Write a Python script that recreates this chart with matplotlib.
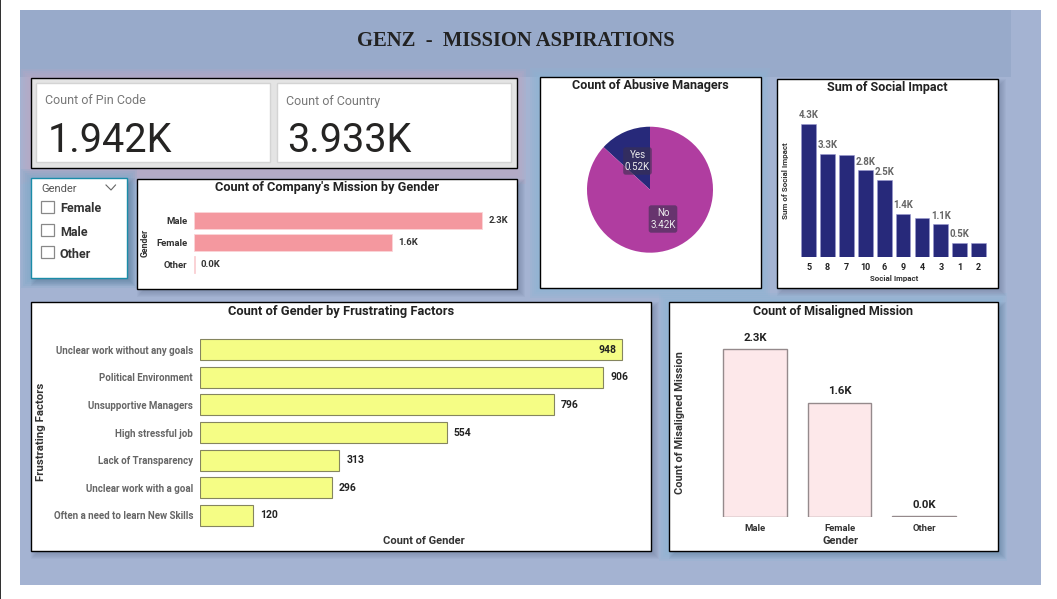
import matplotlib
matplotlib.use("Agg")
import matplotlib.pyplot as plt
from matplotlib.patches import Rectangle, FancyBboxPatch

W, H = 1057, 599
FONT = "Roboto"

# Data
mission_gender = ["Male", "Female", "Other"]
mission_counts = [2300, 1580, 4]
mission_labels = ["2.3K", "1.6K", "0.0K"]

abusive_names = ["Yes", "No"]
abusive_counts = [520, 3420]

impact_names = ["5", "8", "7", "10", "6", "9", "4", "3", "1", "2"]
impact_sums = [4300, 3330, 3290, 2800, 2490, 1400, 1280, 1070, 470, 470]
impact_labels = ["4.3K", "3.3K", "", "2.8K", "2.5K", "1.4K", "", "1.1K", "0.5K", ""]

factor_names = ["Unclear work without any goals", "Political Environment",
                "Unsupportive Managers", "High stressful job",
                "Lack of Transparency", "Unclear work with a goal",
                "Often a need to learn New Skills"]
factor_counts = [948, 906, 796, 554, 313, 296, 120]

misaligned_gender = ["Male", "Female", "Other"]
misaligned_counts = [2300, 1570, 12]
misaligned_labels = ["2.3K", "1.6K", "0.0K"]

fig = plt.figure(figsize=(W / 100, H / 100), dpi=100, facecolor="white")
bg = fig.add_axes([0, 0, 1, 1])
bg.set_xlim(0, W)
bg.set_ylim(H, 0)
bg.axis("off")


def box(x0, y0, x1, y1, **kw):
    bg.add_patch(Rectangle((x0, y0), x1 - x0, y1 - y0, **kw))


def panel(x0, y0, x1, y1, edge="black", shadow=True):
    # soft drop shadow, a few see-through layers
    if shadow:
        for g in range(8, 0, -1):
            box(x0 + 8 - g, y0 + 8 - g, x1 + g, y1 + g, fc="#3c4a6a", ec="none", alpha=0.045)
    box(x0, y0, x1, y1, fc="white", ec=edge, lw=1.0)


def glow(x0, y0, x1, y1, color):
    for g in range(10, 0, -2):
        box(x0 - g, y0 - g, x1 + g, y1 + g, fc=color, ec="none", alpha=0.22)


def new_axes(x0, y0, x1, y1):
    ax = fig.add_axes([x0 / W, 1 - y1 / H, (x1 - x0) / W, (y1 - y0) / H])
    ax.patch.set_alpha(0)
    for s in ax.spines.values():
        s.set_visible(False)
    ax.tick_params(length=0)
    return ax


def label(x, y, s, size, color="#222222", weight="bold", ha="center", rot=0, family=FONT):
    return bg.text(x, y, s, fontsize=size, color=color, fontweight=weight, ha=ha,
                   va="center", rotation=rot, family=family, zorder=10)


# Page
box(0, 0, 1.2, H, fc="#333333", ec="none")
box(20, 10, 1041, 585, fc="#a4b3d2", ec="none")
box(20, 10, 1011, 77, fc="#98aaca", ec="none")
label(516, 40.5, "GENZ  -  MISSION ASPIRATIONS", 14.9, "#222222", family="Liberation Serif")

glow(540, 78, 760, 288, "#8db5d5")
glow(669, 303, 997, 551, "#8db5d5")
glow(31, 79, 516, 174, "#bba8c4")
glow(31, 179, 127, 278, "#7fa8c8")

# KPI cards
box(30.5, 78, 516.5, 168, fc="#e4e4e4", ec="black", lw=1.0)
box(35.5, 83, 270, 162, fc="white", ec="#d4d4d4", lw=1)
box(276.5, 83, 510.5, 162, fc="white", ec="#d4d4d4", lw=1)
label(45, 101, "Count of Pin Code", 9, "#777777", "normal", "left")
label(286, 101, "Count of Country", 9, "#777777", "normal", "left")
label(48, 140, "1.942K", 28.5, "#252423", "normal", "left")
label(287, 140, "3.933K", 28.5, "#252423", "normal", "left")

# Slicer
panel(30.5, 178, 126.5, 278, edge="#1a8ca8")
label(41, 188.5, "Gender", 8, "#555555", "normal", "left")
bg.plot([106, 111, 115.5], [185, 190, 185], color="#666666", lw=0.8)
for yy, name in zip([206.5, 230, 252], ["Female", "Male", "Other"]):
    box(41, yy - 6, 53.5, yy + 6, fc="white", ec="#888888", lw=0.9)
    label(60, yy + 2.5, name, 9, "#333333", "bold", "left")

# Company's mission by gender
panel(137, 179, 516.5, 288.5)
label(327, 187.5, "Count of Company's Mission by Gender", 9.15, "#222222")
ax = new_axes(194, 209.4, 500, 276)
ax.barh(range(3), mission_counts, height=0.77, color="#f4989f", edgecolor="#fbd5d8", lw=0.6)
ax.set_xlim(0, 2444)
ax.set_ylim(2.5, -0.5)
ax.set_xticks([])
ax.set_yticks(range(3), mission_gender, fontsize=6.8, fontweight="bold", family=FONT, color="#333333")
ax.tick_params(axis="y", pad=5)
for i, v in enumerate(mission_counts):
    ax.annotate(mission_labels[i], (v, i), xytext=(4.5, 0), textcoords="offset points",
                va="center", fontsize=6.8, fontweight="bold", family=FONT, color="#333333")
label(145, 243, "Gender", 6.3, "#333333", rot=90)

# Abusive managers pie
panel(539.5, 77, 760.5, 288, shadow=False)
label(650, 86, "Count of Abusive Managers", 9.1, "#222222")
ax = new_axes(586.5, 126.7, 713.5, 252.7)
ax.pie(abusive_counts, colors=["#27297a", "#b03da0"], startangle=90, radius=1)
ax.set_xlim(-1, 1)
ax.set_ylim(-1, 1)
bg2 = fig.add_axes([0, 0, 1, 1])
bg2.set_xlim(0, W)
bg2.set_ylim(H, 0)
bg2.axis("off")
for (xc, yc), name, v in zip([(637.5, 161), (663, 219)], abusive_names, abusive_counts):
    bg2.add_patch(FancyBboxPatch((xc - 14.3, yc - 13.7), 28.6, 27.4, boxstyle="round,pad=0,rounding_size=2.5",
                                 fc="#3a3050", ec="none", alpha=0.62))
    bg2.text(xc, yc, f"{name}\n{v / 1000:.2f}K", color="#eeeeee", fontsize=7, ha="center",
             va="center", family=FONT, linespacing=1.2)

# Social impact
panel(776.5, 79, 997.5, 288)
label(887, 88, "Sum of Social Impact", 9.1, "#222222")
ax = new_axes(799.3, 110, 988, 257.3)
ax.bar(range(10), impact_sums, width=0.78, color="#27297a", edgecolor="#9a9ad0", lw=0.4)
ax.set_xlim(-0.5, 9.5)
ax.set_ylim(0, 4750)
ax.set_yticks([])
ax.set_xticks(range(10), impact_names, fontsize=6.5, fontweight="bold", family=FONT, color="#222222")
ax.tick_params(axis="x", pad=4)
for i, v in enumerate(impact_sums):
    ax.annotate(impact_labels[i], (i, v), xytext=(0, 4), textcoords="offset points", ha="center",
                fontsize=6.9, fontweight="bold", family=FONT, color="#666666")
label(894, 279, "Social Impact", 5.7, "#333333")
label(785.5, 181, "Sum of Social Impact", 5.8, "#333333", rot=90)

# Frustrating factors
panel(30.5, 302, 651, 551)
label(341.5, 311, "Count of Gender by Frustrating Factors", 9.3, "#222222")
ax = new_axes(200, 336, 639.5, 529)
ax.barh(range(7), factor_counts, height=0.76, color="#f5fd85", edgecolor="#85855f", lw=0.8)
ax.set_xlim(0, 987.6)
ax.set_ylim(6.5, -0.5)
ax.set_xticks([])
ax.set_yticks(range(7), factor_names, fontsize=7.05, fontweight="bold", family=FONT, color="#666666")
ax.tick_params(axis="y", pad=5)
for i, v in enumerate(factor_counts):
    if i == 0:
        ax.annotate(str(v), (v, i), xytext=(-4, 0), textcoords="offset points", va="center", ha="right",
                    fontsize=7.5, fontweight="bold", family=FONT, color="#222222")
    else:
        ax.annotate(str(v), (v, i), xytext=(5, 0), textcoords="offset points", va="center",
                    fontsize=7.5, fontweight="bold", family=FONT, color="#222222")
label(423.5, 541, "Count of Gender", 8, "#333333")
label(41, 432, "Frustrating Factors", 8.2, "#333333", rot=90)

# Misaligned mission
panel(668.5, 302, 997.5, 551)
label(833, 311, "Count of Misaligned Mission", 9, "#222222")
ax = new_axes(712.75, 330, 966.25, 517.3)
ax.bar(range(3), misaligned_counts, width=0.75, color="#fde8ea", edgecolor="#958a8c", lw=1)
ax.set_xlim(-0.5, 2.5)
ax.set_ylim(0, 2565)
ax.set_yticks([])
ax.set_xticks(range(3), misaligned_gender, fontsize=6.8, fontweight="bold", family=FONT, color="#333333")
ax.tick_params(axis="x", pad=5)
for i, v in enumerate(misaligned_counts):
    ax.annotate(misaligned_labels[i], (i, v), xytext=(0, 6), textcoords="offset points", ha="center",
                fontsize=8.2, fontweight="bold", family=FONT, color="#222222")
label(841, 541, "Gender", 8, "#333333")
label(680, 423, "Count of Misaligned Mission", 7.9, "#333333", rot=90)

fig.savefig("out.png", dpi=100)
